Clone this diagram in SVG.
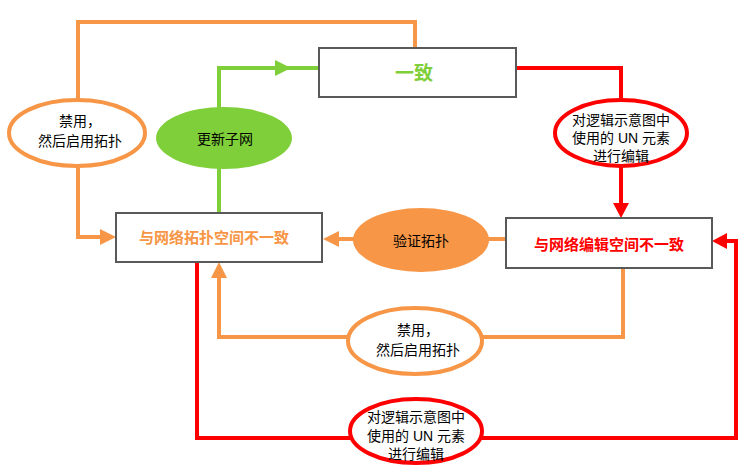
<svg xmlns="http://www.w3.org/2000/svg" width="746" height="473" viewBox="0 0 746 473">
<style>
text{font-family:"Liberation Sans","Noto Sans CJK SC",sans-serif;font-size:14px;fill:#000;text-anchor:middle}
.box{fill:#fff;stroke:#595959;stroke-width:2}
.b{font-weight:bold;font-size:15px}
.o{fill:none;stroke:#F79646;stroke-width:4}
.r{fill:none;stroke:#FF0000;stroke-width:4}
.g{fill:none;stroke:#7FCF3A;stroke-width:4}
</style>
<g id="connectors">
<path class="o" d="M78,100 V22 H415 V48"/>
<path class="o" d="M78,168 V237 H102"/>
<polygon points="116,237 100,229 100,245" fill="#F79646"/>
<path class="g" d="M219,213 V68 H319"/>
<polygon points="291,68 275,60 275,76" fill="#7FCF3A"/>
<path class="r" d="M516,68 H621 V205"/>
<polygon points="621,218 613,203 629,203" fill="#FF0000"/>
<path class="o" d="M506,239 H338"/>
<polygon points="323,239 339,231 339,247" fill="#F79646"/>
<path class="o" d="M623,268 V337 H219 V276"/>
<polygon points="219,262 211,278 227,278" fill="#F79646"/>
<path class="r" d="M197,262 V438 H736 V241 H726"/>
<polygon points="712,241 727,233 727,249" fill="#FF0000"/>
</g>
<g id="n-consistent"><rect class="box" x="319" y="48" width="197" height="49"/><text class="b" x="414" y="80" style="fill:#7FCF3A;font-size:19px">一致</text></g>
<g id="n-topo"><rect class="box" x="116" y="213" width="206" height="49"/><text class="b" x="214" y="243" style="fill:#F79646">与网络拓扑空间不一致</text></g>
<g id="n-edit"><rect class="box" x="506" y="218" width="206" height="50"/><text class="b" x="609" y="250" style="fill:#FF0000">与网络编辑空间不一致</text></g>
<g id="n-disable1"><ellipse cx="77" cy="133" rx="68" ry="33" fill="#fff" stroke="#F79646" stroke-width="4"/><text x="80" y="126">禁用，</text><text x="80" y="146">然后启用拓扑</text></g>
<g id="n-update"><ellipse cx="224" cy="138" rx="68" ry="31" fill="#7FCF3A"/><text x="225" y="144">更新子网</text></g>
<g id="n-edit1"><ellipse cx="621" cy="133" rx="66" ry="33" fill="#fff" stroke="#FF0000" stroke-width="4"/><text x="621" y="125">对逻辑示意图中</text><text x="621" y="143">使用的 UN 元素</text><text x="621" y="161">进行编辑</text></g>
<g id="n-verify"><ellipse cx="421" cy="240" rx="68" ry="32" fill="#F79646"/><text x="421" y="246">验证拓扑</text></g>
<g id="n-disable2"><ellipse cx="415" cy="341" rx="67" ry="33" fill="#fff" stroke="#F79646" stroke-width="4"/><text x="418" y="335">禁用，</text><text x="418" y="355">然后启用拓扑</text></g>
<g id="n-edit2"><ellipse cx="416" cy="431" rx="66" ry="32" fill="#fff" stroke="#FF0000" stroke-width="4"/><text x="416" y="422">对逻辑示意图中</text><text x="416" y="441">使用的 UN 元素</text><text x="416" y="459">进行编辑</text></g>
</svg>
